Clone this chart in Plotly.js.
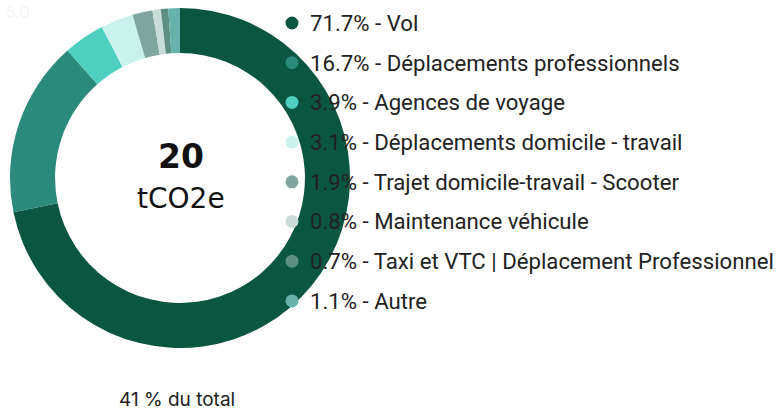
<!DOCTYPE html>
<html>
<head>
<meta charset="utf-8">
<script src="https://cdn.plot.ly/plotly-3.0.1.min.js"></script>
<style>html,body{margin:0;padding:0;background:#fff;}#chart{width:784px;height:411px;}</style>
</head>
<body>
<div id="chart"></div>
<script>
const labels = ["Vol", "Déplacements professionnels", "Agences de voyage", "Déplacements domicile - travail", "Trajet domicile-travail - Scooter", "Maintenance véhicule", "Taxi et VTC | Déplacement Professionnel", "Autre"];
const shares = [71.7, 16.7, 3.9, 3.1, 1.9, 0.8, 0.7, 1.1];
const colors = ["#0b5640", "#2b8b7b", "#4fcfc0", "#c9f2ec", "#7fa69e", "#c8ddd8", "#5d8f83", "#66b3ab"];
const totalValue = "20";
const unit = "tCO2e";
const footnote = "41 % du total";
const cornerText = "5.0";

const W = 784, H = 411;
const px = x => x / W;
const py = y => 1 - y / H;

const trace = {
  type: "pie",
  values: shares,
  labels: labels,
  marker: {colors: colors, line: {width: 0}},
  hole: 0.735,
  sort: false,
  direction: "clockwise",
  rotation: 0,
  textinfo: "none",
  hoverinfo: "label+percent",
  showlegend: false,
  domain: {x: [px(10), px(350)], y: [py(348), py(8)]}
};

const shapes = [];
const annotations = [];
labels.forEach((lab, i) => {
  const yc = 23 + i * 39.7;
  shapes.push({type: "circle", xref: "paper", yref: "paper",
    x0: px(292 - 6.5), x1: px(292 + 6.5), y0: py(yc + 6.5), y1: py(yc - 6.5),
    fillcolor: colors[i], line: {width: 0}, layer: "above"});
  annotations.push({xref: "paper", yref: "paper", x: px(308), y: py(yc), xanchor: "left", yanchor: "middle",
    text: shares[i].toFixed(1) + "% - " + lab, showarrow: false,
    font: {family: "Roboto", size: 22.2, color: "#222222"}});
});
annotations.push({xref: "paper", yref: "paper", x: px(181), y: py(156), xanchor: "center", yanchor: "middle",
  text: "<b>" + totalValue + "</b>", showarrow: false, font: {family: "DejaVu Sans", size: 33, color: "#111111"}});
annotations.push({xref: "paper", yref: "paper", x: px(181), y: py(199), xanchor: "center", yanchor: "middle",
  text: unit, showarrow: false, font: {family: "DejaVu Sans", size: 28, color: "#111111"}});
annotations.push({xref: "paper", yref: "paper", x: px(118), y: py(399), xanchor: "left", yanchor: "middle",
  text: footnote, showarrow: false, borderpad: 0, font: {family: "Inter", size: 19, color: "#222222"}});
annotations.push({xref: "paper", yref: "paper", x: px(4), y: py(12), xanchor: "left", yanchor: "middle",
  text: cornerText, showarrow: false, font: {family: "Inter", size: 16, color: "#f5f5f5"}});

const layout = {
  width: W, height: H,
  margin: {l: 0, r: 0, t: 0, b: 0},
  paper_bgcolor: "#ffffff",
  plot_bgcolor: "#ffffff",
  shapes: shapes,
  annotations: annotations,
  showlegend: false
};
Plotly.newPlot("chart", [trace], layout, {displayModeBar: false, staticPlot: true});
</script>
</body>
</html>
